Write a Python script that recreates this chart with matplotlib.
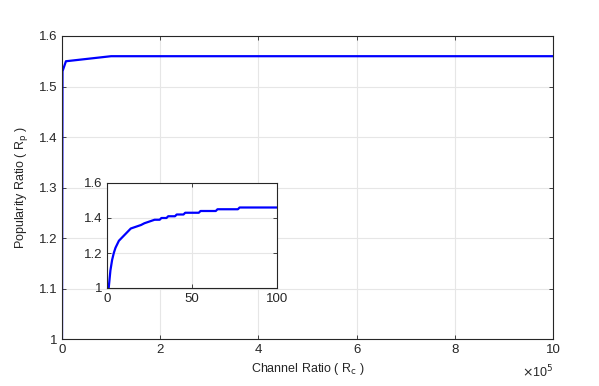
import matplotlib
matplotlib.use("Agg")
import matplotlib.pyplot as plt
from matplotlib.ticker import FuncFormatter

plt.rcParams['font.family'] = ['Liberation Sans', 'DejaVu Sans']

# main curve data
main_x = [0, 1e3, 8e3, 1e5, 1e6]
main_y = [1.0, 1.53, 1.55, 1.56, 1.56]

# inset curve data
inset_x = [1, 2, 3, 4, 5, 6, 7, 8, 10, 12, 14, 17, 20, 22, 25, 28, 31, 32, 35, 36, 40, 41,
           45, 46, 54, 55, 64, 65, 77, 78, 100]
inset_y = [1.0, 1.1, 1.16, 1.2, 1.23, 1.25, 1.27, 1.28, 1.30, 1.32, 1.34, 1.35, 1.36, 1.37,
           1.38, 1.39, 1.39, 1.40, 1.40, 1.41, 1.41, 1.42, 1.42, 1.43, 1.43, 1.44, 1.44,
           1.45, 1.45, 1.46, 1.46]

main_xticks = [0, 2e5, 4e5, 6e5, 8e5, 1e6]
main_yticks = [1, 1.1, 1.2, 1.3, 1.4, 1.5, 1.6]
inset_xticks = [0, 50, 100]
inset_yticks = [1, 1.2, 1.4, 1.6]

spine_c = '#262626'
grid_c = '#e6e6e6'

def style(ax):
    for s in ax.spines.values():
        s.set_color(spine_c)
        s.set_linewidth(0.8)
    ax.tick_params(direction='in', top=True, right=True, colors=spine_c,
                   labelcolor='#262626', labelsize=9.5, length=3, width=0.6)
    ax.grid(True, color=grid_c, linewidth=0.8)
    ax.set_axisbelow(True)

fig = plt.figure(figsize=(5.99, 3.86), dpi=100)
ax = fig.add_axes([62/599, 47/386, 491/599, 303/386])
ax.plot(main_x, main_y, color='#0000ff', linewidth=1.6)
ax.set_xlim(0, 1e6)
ax.set_ylim(1, 1.6)
ax.set_xticks(main_xticks)
ax.set_yticks(main_yticks)
ax.xaxis.set_major_formatter(FuncFormatter(lambda v, p: f"{v/1e5:g}"))
ax.yaxis.set_major_formatter(FuncFormatter(lambda v, p: f"{v:g}"))
style(ax)
ax.set_xlabel(r'Channel Ratio ( R$_{\rm c}$ )', fontsize=9, color='#262626', labelpad=4)
ax.set_ylabel(r'Popularity Ratio ( R$_{\rm p}$ )', fontsize=9, color='#262626', labelpad=6)
ax.text(1.0, -0.08, r'$\times$10$^{5}$', transform=ax.transAxes, ha='right', va='top',
        fontsize=9, color='#262626')

ins = fig.add_axes([107/599, 98/386, 170/599, 105/386])
ins.set_facecolor('white')
ins.plot(inset_x, inset_y, color='#0000ff', linewidth=1.6)
ins.set_xlim(0, 100)
ins.set_ylim(1, 1.6)
ins.set_xticks(inset_xticks)
ins.set_yticks(inset_yticks)
ins.yaxis.set_major_formatter(FuncFormatter(lambda v, p: f"{v:g}"))
style(ins)

fig.savefig('out.png', dpi=100)
